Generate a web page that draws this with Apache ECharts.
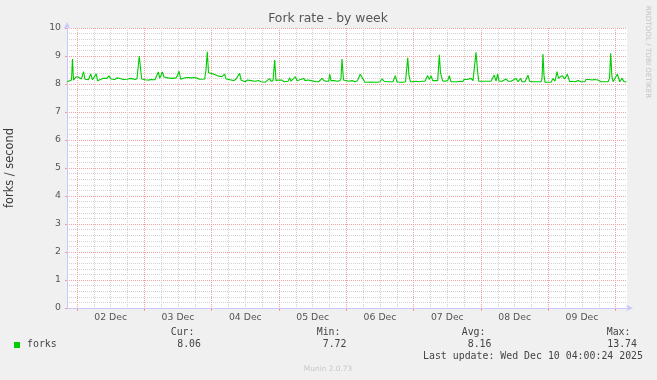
<!DOCTYPE html>
<html><head><meta charset="utf-8">
<script src="https://cdn.jsdelivr.net/npm/echarts@6/dist/echarts.min.js"></script>
<style>html,body{margin:0;padding:0;background:#f0f0f0}#c{width:657px;height:380px}</style>
</head><body><div id="c"></div>
<script>
// hours since 02 Dec 00:00
const hours = [-3.56,-2.85,-1.96,-1.6,-1.25,-0.71,-0.36,0.36,1.07,1.6,2.32,2.85,3.56,4.1,4.88,5.52,6.06,6.88,7.31,7.84,8.55,9.27,9.98,10.69,11.41,12.12,12.83,13.54,14.26,14.97,15.68,16.4,17.11,17.82,18.53,19.25,19.96,20.67,21.39,21.92,22.2,22.7,23.06,23.53,24.24,24.95,25.66,26.38,27.09,27.8,28.34,28.98,29.51,29.94,30.41,31.01,31.72,32.44,33.15,33.86,34.57,35.29,35.82,36.36,36.97,37.43,38.5,39.57,40.63,41.7,42.77,43.73,44.55,45.52,45.98,46.45,46.88,47.31,48.12,49.08,49.55,50.62,51.68,52.22,52.64,53.11,53.82,54.54,55.25,55.96,56.68,57.39,57.99,58.46,59.17,59.88,60.6,61.31,62.02,62.73,63.45,64.16,64.87,65.59,66.3,67.01,67.72,68.69,69.15,69.87,70.47,70.93,71.65,72.36,73.07,73.79,74.5,75.21,75.82,76.29,77.0,77.83,78.43,79.15,79.86,80.81,81.28,82.35,83.42,84.13,85.2,86.15,87.33,88.04,88.76,89.72,90.07,90.54,91.61,92.68,93.74,94.1,94.46,94.99,95.88,96.95,98.02,99.09,99.98,100.52,100.98,101.84,102.66,103.73,104.8,105.87,106.94,108.0,108.72,109.43,110.5,111.57,112.64,113.46,114.06,115.13,116.2,117.09,117.88,118.34,118.88,119.77,120.84,121.91,122.98,124.05,125.0,125.58,126.19,126.79,127.61,128.57,129.14,129.57,130.35,131.17,132.13,132.7,133.31,134.38,135.45,136.52,137.48,137.94,139.01,139.72,140.44,141.15,141.61,142.22,142.75,143.17,144.35,145.42,146.49,147.56,148.17,148.74,149.35,149.95,150.42,151.49,152.2,152.92,153.63,154.7,155.41,156.48,157.19,158.15,158.62,159.69,160.4,160.76,161.29,162.18,163.25,164.32,165.39,165.75,166.1,166.46,166.82,167.89,168.96,169.67,170.39,171.1,171.63,172.06,172.88,173.84,174.77,175.62,176.44,177.51,178.58,179.65,180.97,181.43,182.5,183.57,184.29,185.0,185.71,186.78,187.85,188.56,189.28,189.81,190.24,190.63,191.06,191.77,192.6,193.46,194.27,194.99,195.81];
const forks = [8.08,8.14,8.14,8.89,8.14,8.16,8.26,8.25,8.2,8.18,8.44,8.17,8.22,8.15,8.36,8.15,8.18,8.36,8.12,8.18,8.17,8.2,8.17,8.2,8.29,8.18,8.2,8.16,8.22,8.15,8.19,8.16,8.2,8.17,8.15,8.2,8.18,8.16,8.19,8.2,9.0,9.0,8.18,8.14,8.15,8.16,8.14,8.16,8.17,8.15,8.2,8.43,8.2,8.25,8.43,8.25,8.2,8.22,8.18,8.2,8.18,8.22,8.3,8.46,8.17,8.22,8.22,8.23,8.22,8.23,8.21,8.17,8.17,8.18,8.5,9.15,8.4,8.36,8.37,8.34,8.27,8.28,8.26,8.2,8.35,8.18,8.22,8.15,8.2,8.12,8.18,8.16,8.38,8.14,8.17,8.08,8.14,8.1,8.12,8.05,8.1,8.06,8.12,8.08,8.1,8.06,8.12,8.2,8.1,8.12,8.86,8.12,8.14,8.1,8.14,8.08,8.12,8.1,8.22,8.1,8.14,8.26,8.12,8.14,8.11,8.2,8.12,8.14,8.12,8.08,8.08,8.08,8.2,8.12,8.1,8.1,8.35,8.12,8.12,8.1,8.12,8.2,8.89,8.14,8.12,8.1,8.12,8.08,8.12,8.15,8.35,8.2,8.06,8.06,8.07,8.06,8.06,8.08,8.18,8.1,8.08,8.08,8.08,8.3,8.08,8.06,8.06,8.08,8.94,8.3,8.08,8.08,8.1,8.08,8.1,8.1,8.3,8.16,8.3,8.12,8.12,8.12,9.04,8.4,8.11,8.1,8.12,8.3,8.08,8.08,8.08,8.1,8.08,8.16,8.16,8.16,8.2,8.12,8.08,9.13,8.5,8.1,8.1,8.1,8.1,8.1,8.1,8.32,8.1,8.35,8.1,8.1,8.12,8.18,8.1,8.1,8.1,8.2,8.08,8.2,8.08,8.08,8.12,8.32,8.1,8.08,8.08,8.08,8.08,8.2,9.07,8.3,8.06,8.06,8.06,8.2,8.1,8.44,8.2,8.16,8.3,8.18,8.35,8.08,8.1,8.08,8.12,8.08,8.08,8.16,8.16,8.14,8.16,8.2,8.14,8.08,8.08,8.1,8.08,8.2,9.1,8.3,8.08,8.1,8.35,8.08,8.2,8.08,8.08];
const dayLines = [0,24,48,72,96,120,144,168,192];
const sixHourLines = [6,12,18,30,36,42,54,60,66,78,84,90,102,108,114,126,132,138,150,156,162,174,180,186];
const dayLabelPos = [12,36,60,84,108,132,156,180];
const dayLabels = ['02 Dec','03 Dec','04 Dec','05 Dec','06 Dec','07 Dec','08 Dec','09 Dec'];
const statNames = ['Cur:','Min:','Avg:','Max:'];
const statValues = ['8.06','7.72','8.16','13.74'];
const XMIN = -3.56, XMAX = 196.04;

const chart = echarts.init(document.getElementById('c'), null, {renderer:'canvas'});
const F = 'DejaVu Sans';
const statLabelX = [194.5, 340.5, 485.5, 630.5];
const statValueX = [201, 346.5, 491.5, 637];
const graphics = [
  {type:'text', x:328, y:19, style:{text:'Fork rate - by week', font:'12.4px "DejaVu Sans"', fill:'#555', textAlign:'center', textVerticalAlign:'middle'}},
  {type:'text', x:10, y:168, rotation:Math.PI/2, style:{text:'forks / second', font:'11.4px "DejaVu Sans"', fill:'#3a3a3a', textAlign:'center', textVerticalAlign:'middle'}},
  {type:'text', x:648, y:52, rotation:-Math.PI/2, style:{text:'RRDTOOL / TOBI OETIKER', font:'7.2px "DejaVu Sans"', fill:'#c4c4c4', textAlign:'center', textVerticalAlign:'middle'}},
  {type:'rect', shape:{x:14, y:342, width:6, height:6}, style:{fill:'#00cc00'}},
  {type:'text', x:27, y:344.5, style:{text:'forks', font:'9.9px "DejaVu Sans Mono"', fill:'#444', textAlign:'left', textVerticalAlign:'middle'}},
  {type:'text', x:643, y:356.7, style:{text:'Last update: Wed Dec 10 04:00:24 2025', font:'9.9px "DejaVu Sans Mono"', fill:'#444', textAlign:'right', textVerticalAlign:'middle'}},
  {type:'text', x:328, y:369, style:{text:'Munin 2.0.73', font:'7.4px "DejaVu Sans"', fill:'#c8c8c8', textAlign:'center', textVerticalAlign:'middle'}}
];
statNames.forEach((n,i)=>{
  graphics.push({type:'text', x:statLabelX[i], y:332.7, style:{text:n, font:'9.9px "DejaVu Sans Mono"', fill:'#444', textAlign:'right', textVerticalAlign:'middle'}});
  graphics.push({type:'text', x:statValueX[i], y:344.5, style:{text:statValues[i], font:'9.9px "DejaVu Sans Mono"', fill:'#444', textAlign:'right', textVerticalAlign:'middle'}});
});

const axisCol = '#c8c8ff';
chart.setOption({
  animation:false,
  backgroundColor:'#f0f0f0',
  grid:{left:67, right:30, top:28, bottom:72, show:true, backgroundColor:'#ffffff', borderWidth:0},
  xAxis:[{
    type:'value', min:XMIN, max:XMAX, position:'bottom',
    axisLine:{show:true, onZero:false, symbol:['none','arrow'], symbolSize:[5,7], symbolOffset:[0,6], lineStyle:{color:axisCol, width:1}},
    axisTick:{show:true, customValues:dayLines, length:3, lineStyle:{color:'#f09a9a'}},
    axisLabel:{show:true, customValues:dayLabelPos, formatter:v=>dayLabels[dayLabelPos.indexOf(v)] || '', color:'#555', fontFamily:F, fontSize:9.3, margin:5},
    splitLine:{show:true, lineStyle:{color:'#f2a0a0', type:[1,1], width:1}}
  },{
    type:'value', min:XMIN, max:XMAX, position:'bottom',
    axisLine:{show:false}, axisLabel:{show:false},
    axisTick:{show:false, customValues:sixHourLines},
    splitLine:{show:true, lineStyle:{color:'#d2d2d2', type:[1,1], width:1}}
  }],
  yAxis:{
    type:'value', min:0, max:10, interval:1,
    axisLine:{show:true, onZero:false, symbol:['none','arrow'], symbolSize:[5,7], symbolOffset:[0,6], lineStyle:{color:axisCol, width:1}},
    axisTick:{show:true, length:2, lineStyle:{color:'#f09a9a'}},
    axisLabel:{color:'#555', fontFamily:F, fontSize:9.3, margin:6},
    splitLine:{show:true, lineStyle:{color:'#f2a0a0', type:[1,1], width:1}},
    minorTick:{show:false, splitNumber:5},
    minorSplitLine:{show:true, lineStyle:{color:'#d2d2d2', type:[1,1], width:1}}
  },
  series:[{
    type:'line', xAxisIndex:0, yAxisIndex:0, showSymbol:false, symbol:'none',
    data: hours.map((h,i)=>[h, forks[i]]),
    lineStyle:{color:'#00cc00', width:1.1}
  }],
  graphic: graphics
});
</script></body></html>
